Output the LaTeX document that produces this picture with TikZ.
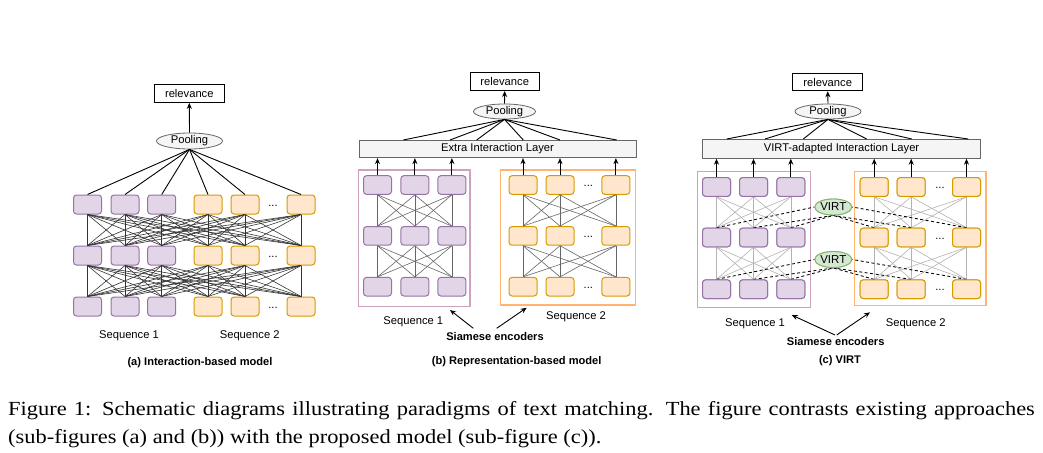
\documentclass[tikz,border=0pt]{standalone}
\usepackage{fontspec}
\setmainfont{Liberation Serif}
\setsansfont{Liberation Sans}
\usetikzlibrary{arrows.meta,shapes.geometric}
\definecolor{pfill}{HTML}{E1D5E7}
\definecolor{pdraw}{HTML}{9673A6}
\definecolor{ofill}{HTML}{FFE6CC}
\definecolor{odraw}{HTML}{D79B00}
\definecolor{pframe}{HTML}{CDA2BE}
\definecolor{oframe}{HTML}{FFB570}
\definecolor{layerfill}{HTML}{F5F5F5}
\definecolor{layerdraw}{HTML}{666666}
\definecolor{vfill}{HTML}{D5E8D4}
\definecolor{vdraw}{HTML}{82B366}
\definecolor{linea}{HTML}{333333}
\definecolor{lineb}{HTML}{666666}
\definecolor{linec}{HTML}{B3B3B3}
\tikzset{
  lbl/.style={font=\sffamily\fontsize{11.2}{12}\selectfont, inner sep=0pt},
  ttl/.style={font=\sffamily\bfseries\fontsize{11.1}{12}\selectfont, inner sep=0pt},
  unit/.style={rounded corners=3pt, minimum width=28pt, minimum height=18.6pt, inner sep=0pt, line width=1pt},
  punit/.style={unit, fill=pfill, draw=pdraw},
  ounit/.style={unit, fill=ofill, draw=odraw},
  relbox/.style={lbl, draw, line width=1pt, minimum width=69pt, minimum height=17.5pt, fill=white},
  pool/.style={lbl, ellipse, draw=layerdraw, fill=layerfill, line width=0.8pt, minimum width=64pt, minimum height=15.5pt},
  layerbox/.style={lbl, draw=layerdraw, fill=layerfill, line width=0.8pt, minimum height=18pt},
  virt/.style={ellipse, draw=vdraw, fill=vfill, line width=0.9pt, minimum width=37pt, minimum height=16pt, inner sep=0pt, font=\sffamily\fontsize{11.5}{12}\selectfont},
  arr/.style={-{Stealth[length=6pt,width=5pt]}, line width=0.9pt},
  plink/.style={line width=0.9pt},
  conna/.style={draw=linea, line width=0.6pt},
  connb/.style={draw=lineb, line width=0.6pt},
  connc/.style={draw=linec, line width=0.6pt},
  vlink/.style={dash pattern=on 3pt off 2.5pt, line width=0.85pt},
  dots/.style={lbl, anchor=base},
  frm/.style={line width=1.5pt},
  captext/.style={anchor=base west, inner sep=0pt, font=\fontsize{20}{24}\selectfont},
}
\begin{document}
\begin{tikzpicture}[x=1pt,y=-1pt]
\useasboundingbox (0,0) rectangle (1043,452);
\fill[white] (0,0) rectangle (1043,452);

% ================= Panel (a) =================
\foreach \r/\y in {1/204.5,2/255.5,3/306.5}{
  \foreach \c/\x in {1/87.5,2/125,3/161.7}{\node[punit,minimum height=19pt] (a\r\c) at (\x,\y) {};}
  \foreach \c/\x in {4/208,5/245,6/301}{\node[ounit,minimum height=19pt] (a\r\c) at (\x,\y) {};}
  \node[dots] (adots\r) at (273,\y+1.5) {...};
}
\foreach \i in {1,...,6}{\foreach \j in {1,...,6}{
  \draw[conna] (a1\i.south) -- (a2\j.north);
  \draw[conna] (a2\i.south) -- (a3\j.north);
}}
\node[relbox, minimum width=70pt, minimum height=18.3pt] (arel) at (189.3,93.2) {relevance};
\node[pool, minimum width=66pt, minimum height=16pt] (apool) at (189.5,141) {Pooling};
\foreach \i in {1,...,6}{\draw[plink] (apool.south) -- (a1\i.north);}
\draw[arr] (apool.north) -- (arel.south);
\node[lbl] (aseq1) at (129,336) {Sequence 1};
\node[lbl] (aseq2) at (249.7,336) {Sequence 2};
\node[ttl] (atitle) at (200,363) {(a) Interaction-based model};

% ================= Panel (b) =================
\draw[frm, draw=pframe] (358.3,170) rectangle (470,306.7);
\draw[frm, draw=oframe] (500.7,170) rectangle (635.7,305);
\foreach \r/\y in {1/185,2/235.9,3/286.7}{
  \foreach \c/\x in {1/377.5,2/414.9,3/451.9}{\node[punit] (b\r\c) at (\x,\y) {};}
  \foreach \c/\x in {4/523,5/560,6/615.9}{\node[ounit] (b\r\c) at (\x,\y) {};}
  \node[dots] (bdots\r) at (588.3,\y+1.5) {...};
}
\foreach \i in {1,2,3}{\foreach \j in {1,2,3}{
  \draw[connb] (b1\i.south) -- (b2\j.north);
  \draw[connb] (b2\i.south) -- (b3\j.north);
}}
\foreach \i in {4,5,6}{\foreach \j in {4,5,6}{
  \draw[connb] (b1\i.south) -- (b2\j.north);
  \draw[connb] (b2\i.south) -- (b3\j.north);
}}
\node[relbox] (brel) at (504.7,81.7) {relevance};
\node[pool, minimum width=62pt, minimum height=15pt] (bpool) at (504.5,111.5) {Pooling};
\node[layerbox, minimum width=277pt, minimum height=17.7pt] (blayer) at (497.5,148.85) {Extra Interaction Layer};
\foreach \k/\x in {1/403.3,2/450,3/476.7,4/523.3,5/560,6/616.7}{
  \coordinate (bt\k) at (\x,140);
  \draw[plink] (bpool.south) -- (bt\k);
}
\draw[arr] (bpool.north) -- (brel.south);
\foreach \i in {1,...,6}{\draw[arr] (b1\i.north) -- (b1\i.north |- blayer.south);}
\node[lbl] (bseq1) at (413.3,321.7) {Sequence 1};
\node[lbl] (bseq2) at (576,316.7) {Sequence 2};
\node[ttl] (bsiam) at (495,337) {Siamese encoders};
\coordinate (bsa) at (473.3,328.3);
\coordinate (bsb) at (496.7,328.3);
\coordinate (bf1) at (450,310);
\coordinate (bf2) at (526.7,307.7);
\draw[arr] (bsa) -- (bf1);
\draw[arr] (bsb) -- (bf2);
\node[ttl] (btitle) at (516.7,361.7) {(b) Representation-based model};

% ================= Panel (c) =================
\foreach \r/\y in {1/187,2/237.5,3/289.2}{
  \foreach \c/\x in {1/716.5,2/753.5,3/790.8}{\coordinate (cp\r\c) at (\x,\y);}
  \foreach \c/\x in {4/874.2,5/911.2,6/966.5}{\coordinate (cp\r\c) at (\x,\y);}
}
\foreach \r in {1,2,3}{
  \foreach \c in {1,2,3}{\node[punit] (c\r\c) at (cp\r\c) {};}
  \foreach \c in {4,5,6}{\node[ounit] (c\r\c) at (cp\r\c) {};}
}
\foreach \i in {1,2,3}{\foreach \j in {1,2,3}{
  \draw[connc] (c1\i.south) -- (c2\j.north);
  \draw[connc] (c2\i.south) -- (c3\j.north);
}}
\foreach \i in {4,5,6}{\foreach \j in {4,5,6}{
  \draw[connc] (c1\i.south) -- (c2\j.north);
  \draw[connc] (c2\i.south) -- (c3\j.north);
}}
\draw[frm, draw=pframe] (697.3,171.7) rectangle (810.7,307.7);
\draw[frm, draw=oframe] (854.3,171.7) rectangle (986,305.7);
\node[virt] (cv1) at (833.3,207) {VIRT};
\node[virt] (cv2) at (833.3,259.5) {VIRT};
\foreach \r/\v in {2/cv1,3/cv2}{
  \draw[vlink] (c\r1.north) -- (\v.west);
  \draw[vlink] (c\r2.north) -- (\v.south);
  \draw[vlink] (c\r3.north) -- (\v.south);
  \draw[vlink] (c\r4.north) -- (\v.south);
  \draw[vlink] (c\r5.north) -- (\v.south);
  \draw[vlink] (c\r6.north) -- (\v.east);
}
% redraw nodes on top
\foreach \r in {1,2,3}{
  \foreach \c in {1,2,3}{\node[punit] at (c\r\c) {};}
  \foreach \c in {4,5,6}{\node[ounit] at (c\r\c) {};}
  \node[dots] (cdots\r) at ([yshift=-1.5pt]c\r5.center -| 940,0) {...};
}
\node[virt] at (cv1) {VIRT};
\node[virt] at (cv2) {VIRT};
\node[relbox, minimum width=70pt] (crel) at (827.7,82) {relevance};
\node[pool, minimum width=66pt, minimum height=15pt] (cpool) at (828,111.5) {Pooling};
\node[layerbox, minimum width=278.4pt, minimum height=19.3pt] (clayer) at (841.5,148.65) {VIRT-adapted Interaction Layer};
\foreach \k/\x in {1/726.7,2/765,3/803.3,4/866.7,5/911.7,6/968.3}{
  \coordinate (ct\k) at (\x,139);
  \draw[plink] (cpool.south) -- (ct\k);
}
\draw[arr] (cpool.north) -- (crel.south);
\foreach \i in {1,...,6}{\draw[arr] (c1\i.north) -- (c1\i.north |- clayer.south);}
\node[lbl] (cseq1) at (755,324) {Sequence 1};
\node[lbl] (cseq2) at (915.7,323.3) {Sequence 2};
\node[ttl] (csiam) at (835.7,342) {Siamese encoders};
\coordinate (csa) at (835,335);
\coordinate (csb) at (836.7,335);
\coordinate (cf1) at (791.7,315);
\coordinate (cf2) at (870,312.3);
\draw[arr] (csa) -- (cf1);
\draw[arr] (csb) -- (cf2);
\node[ttl] (ctitle) at (840,361) {(c) VIRT};

% ================= Caption =================
\node[captext] (cap1) at (8,415)
  {\scalebox{1.122}[1]{\makebox[915pt][s]{Figure 1: Schematic diagrams illustrating paradigms of text matching. The figure contrasts existing approaches}}};
\node[captext] (cap2) at (8,443.3)
  {\scalebox{1.122}[1]{(sub-figures (a) and (b)) with the proposed model (sub-figure (c)).}};
\end{tikzpicture}
\end{document}
